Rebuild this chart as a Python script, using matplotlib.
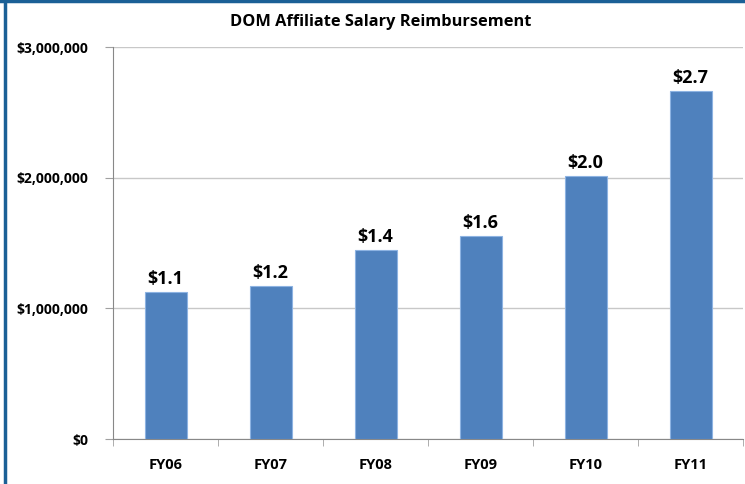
import numpy as np
import matplotlib.pyplot as plt
from matplotlib.lines import Line2D
from matplotlib.ticker import FuncFormatter

# fiscal years and reimbursement totals (dollars)
years = ['FY06', 'FY07', 'FY08', 'FY09', 'FY10', 'FY11']
amounts = [1125000, 1170000, 1446000, 1553000, 2013000, 2663000]
bar_labels = ['$1.1', '$1.2', '$1.4', '$1.6', '$2.0', '$2.7']

plt.rcParams['font.family'] = ['Open Sans', 'DejaVu Sans']

fig = plt.figure(figsize=(7.45, 4.84), dpi=100)
ax = fig.add_axes([113/745, 1-439/484, 630/745, 392/484])

x = np.arange(len(years))
bars = ax.bar(x, amounts, width=0.4, color='#4F81BD', edgecolor='#8DB3E2',
              linewidth=0.8, zorder=3)

for b, lab in zip(bars, bar_labels):
    ax.annotate(lab, (b.get_x() + b.get_width()/2, b.get_height()),
                xytext=(0, 3), textcoords='offset points', ha='center',
                va='bottom', fontsize=13, fontweight='bold')

ax.set_xlim(-0.5, 5.5)
ax.set_ylim(0, 3000000)
ax.set_yticks([0, 1000000, 2000000, 3000000])
ax.yaxis.set_major_formatter(FuncFormatter(lambda v, p: '${:,.0f}'.format(v)))
ax.grid(axis='y', color='#c8c8c8', lw=1, zorder=0)

# category labels in the middle, tick marks on the boundaries
ax.set_xticks(x)
ax.set_xticklabels(years, fontsize=10.5, fontweight='bold')
ax.set_xticks(np.arange(-0.5, 6, 1), minor=True)
ax.tick_params(axis='x', which='major', length=0, pad=14)
ax.tick_params(axis='x', which='minor', length=5, color='#a0a0a0')
ax.tick_params(axis='y', length=6, color='#a0a0a0', pad=12, labelsize=10)
for t in ax.get_yticklabels():
    t.set_fontweight('bold')

for s in ['top', 'right']:
    ax.spines[s].set_visible(False)
for s in ['left', 'bottom']:
    ax.spines[s].set_color('#888888')

fig.text(381/745, 1-22/484, 'DOM Affiliate Salary Reimbursement', ha='center',
         va='center', fontsize=11.8, fontweight='bold')

# outer frame lines
fig.add_artist(Line2D([0, 1], [1-1/484, 1-1/484], color='#1B6096', lw=2.5))
fig.add_artist(Line2D([5/745, 5/745], [0, 1], color='#1B6096', lw=2.5))

fig.savefig('out.png', dpi=100)
